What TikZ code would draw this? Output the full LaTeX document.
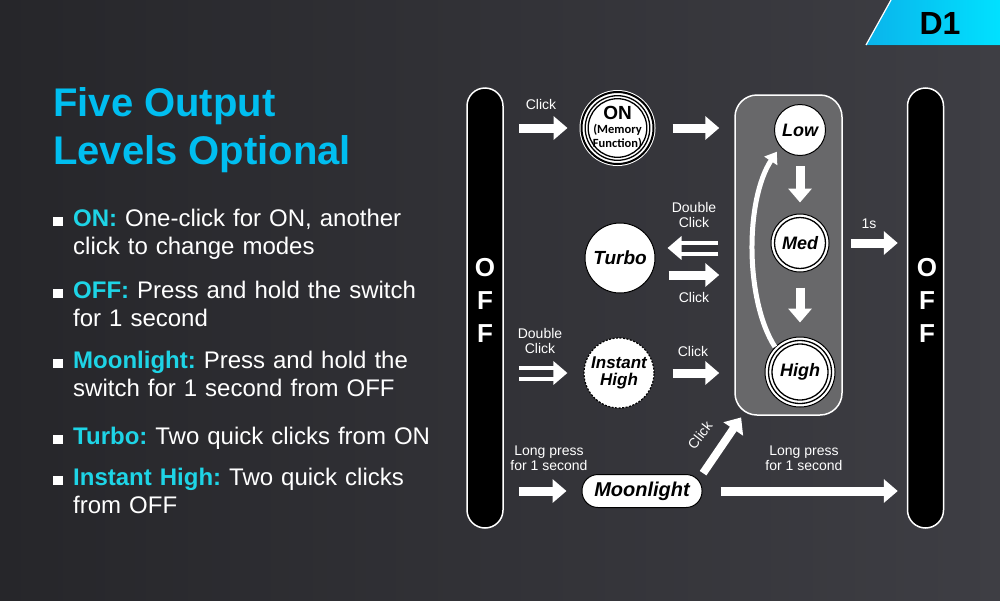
\documentclass[tikz,border=0pt]{standalone}
\usepackage{fontspec}
\setmainfont{Liberation Sans}
\newfontfamily\carlito{Carlito}
\usetikzlibrary{arrows.meta,positioning,shapes.misc}
\frenchspacing

\definecolor{bgdark}{RGB}{38,38,42}
\definecolor{bglight}{RGB}{62,62,68}
\definecolor{bgmid}{RGB}{50,50,55}
\definecolor{titlecyan}{RGB}{0,190,240}
\definecolor{keycyan}{RGB}{30,212,230}
\definecolor{boxgray}{RGB}{104,104,106}
\definecolor{badgea}{RGB}{10,180,235}
\definecolor{badgeb}{RGB}{0,225,255}

\newcommand{\pxfont}[2]{\fontsize{#1}{#2}\selectfont}
\newcommand{\bulsq}{\makebox[20pt][l]{\rule{10pt}{9pt}}}

\tikzset{
  lbl/.style={text=white, font=\pxfont{14}{15}, align=center, inner sep=0pt},
  blk/.style={draw=white, line width=9pt, -{Triangle[length=14pt,width=23pt]}},
  dbl/.style={draw=white, line width=4pt, double=bgmid, double distance=7pt, -{Triangle[length=14pt,width=23pt]}},
  curv/.style={draw=white, line width=5pt, -{Triangle[length=11pt,width=15pt]}},
  lvl/.style={circle, fill=white, draw=black, line width=1pt, inner sep=0pt, font=\pxfont{18}{18}\bfseries\itshape},
  rings/.style={path picture={\foreach \r in {#1} \draw[line width=1.3pt] (path picture bounding box.center) circle[radius=\r pt];}},
  offbar/.style={rectangle, rounded corners=18pt, fill=black, draw=white, line width=1.5pt, minimum width=36pt, minimum height=440pt},
  offtxt/.style={text=white, font=\pxfont{26}{33}\bfseries, align=center, inner sep=0pt},
  item/.style={anchor=base west, text=white, font=\pxfont{24}{28}, text width=400pt, align=left, inner sep=0pt},
}

\begin{document}
\begin{tikzpicture}[x=1pt, y=1pt]
  % Background
  \useasboundingbox (0,0) rectangle (1000,-600);
  \fill[left color=bgdark, right color=bglight] (0,0) rectangle (1000,-600);

  % Badge
  \fill[left color=badgea, right color=badgeb] (866,-45) -- (891,0) -- (1000,0) -- (1000,-45) -- cycle;
  \draw[white, line width=1.2pt] (866,-45) -- (891,0);
  \node[font=\pxfont{32}{32}\bfseries, text=black] (badge) at (940,-23) {D1};

  % Title and list
  \node[anchor=base west, text=titlecyan, font=\pxfont{40}{48}\bfseries, align=left, inner sep=0pt] (ttl) at (53,-164) {Five Output\\Levels Optional};
  \node[item] (iton) at (53,-226) {\noindent\bulsq{\color{keycyan}\bfseries ON:} One-click for ON, another\\\hspace*{20pt}click to change modes};
  \node[item] (itoff) at (53,-298) {\noindent\bulsq{\color{keycyan}\bfseries OFF:} Press and hold the switch\\\hspace*{20pt}for 1 second};
  \node[item] (itmoon) at (53,-368) {\noindent\bulsq{\color{keycyan}\bfseries Moonlight:} Press and hold the\\\hspace*{20pt}switch for 1 second from OFF};
  \node[item] (itturbo) at (53,-444) {\noindent\bulsq{\color{keycyan}\bfseries Turbo:} Two quick clicks from ON};
  \node[item] (itinst) at (53,-485) {\noindent\bulsq{\color{keycyan}\bfseries Instant High:} Two quick clicks\\\hspace*{20pt}from OFF};

  % OFF bars
  \node[offbar] (offl) at (485,-308) {};
  \node[offbar] (offr) at (925.5,-308) {};
  \node[offtxt] (offlt) at (485,-300) {O\\F\\F};
  \node[offtxt] (offrt) at (927,-300) {O\\F\\F};

  % Mode group
  \node[rectangle, rounded corners=22pt, fill=boxgray, draw=white, line width=1.5pt, minimum width=107pt, minimum height=320pt] (box) at (788.5,-255) {};
  \node[lvl, minimum size=51pt] (low) at (800,-130) {Low};
  \node[lvl, minimum size=58pt, rings={25.5}] (med) at (800,-243) {Med};
  \node[lvl, minimum size=70pt, rings={31.5,28}] (high) at (800,-372) {High};

  % Other modes
  \node[lvl, minimum size=72pt, line width=2pt, preaction={draw=white, line width=4pt}, rings={32.3,29.3},
        text width=50pt, align=center, font=\carlito\bfseries\pxfont{12.5}{14}] (on) at (617.5,-128)
    {{\rmfamily\pxfont{19}{19}ON}\\(Memory\\Function)};
  \node[lvl, minimum size=70pt, font=\pxfont{19}{19}\bfseries\itshape] (turbo) at (620,-258) {Turbo};
  \node[lvl, minimum size=70pt, dash pattern=on 2pt off 1.5pt, line width=1.2pt, align=center, font=\pxfont{17}{17}\bfseries\itshape] (inst) at (619,-373) {Instant\\High};
  \node[rectangle, rounded corners=16pt, fill=white, draw=black, line width=1pt, minimum width=120pt, minimum height=33pt, font=\pxfont{20}{20}\bfseries\itshape] (moon) at (642,-491) {Moonlight};

  % Arrows
  \coordinate (tbdbl) at ([yshift=10pt]turbo.east);
  \coordinate (tbclk) at ([yshift=-17pt]turbo.east);
  \draw[blk, shorten <=15pt, shorten >=13pt] (offl.east |- on.west) -- (on.west);
  \draw[blk, shorten <=18pt, shorten >=15pt] (on.east) -- (on.east -| box.west);
  \draw[blk, shorten <=10pt, shorten >=11pt] (low.south) -- (med.north);
  \draw[blk, shorten <=15pt, shorten >=14pt] (med.south) -- (high.north);
  \draw[curv, shorten >=6pt] (high.135) .. controls (745,-300) and (745,-200) .. (low.220);
  \draw[blk, shorten <=8pt, shorten >=9pt] (med.east -| box.east) -- (med.east -| offr.west);
  \draw[dbl, shorten <=16pt, shorten >=12pt] (tbdbl -| box.west) -- (tbdbl);
  \draw[blk, shorten <=13pt, shorten >=15pt] (tbclk) -- (tbclk -| box.west);
  \draw[dbl, shorten <=15pt, shorten >=16pt] (offl.east |- inst.west) -- (inst.west);
  \draw[blk, shorten <=18pt, shorten >=15pt] (inst.east) -- (inst.east -| box.west);
  \draw[blk, shorten <=15pt, shorten >=15pt] (offl.east |- moon.west) -- (moon.west);
  \draw[blk, shorten <=18pt, shorten >=9pt] (moon.east) -- (moon.east -| offr.west);
  \draw[blk, line width=8pt, shorten <=1pt, shorten >=2pt] (moon.north east) -- ([xshift=8pt]box.south west);

  % Labels
  \node[lbl] (clkon) at (541,-104) {Click};
  \node[lbl] (dclkturbo) at (694,-215) {Double\\Click};
  \node[lbl] (clkturbo) at (694,-297) {Click};
  \node[lbl] (dclkinst) at (540,-341) {Double\\Click};
  \node[lbl] (clkinst) at (693,-351) {Click};
  \node[lbl] (lpmoon) at (549,-458) {Long press\\for 1 second};
  \node[lbl] (lpoff) at (804,-458) {Long press\\for 1 second};
  \node[lbl] (onesec) at (869,-224) {1s};
  \node[lbl, rotate=52] (clkmoon) at (700,-435) {Click};
\end{tikzpicture}
\end{document}
